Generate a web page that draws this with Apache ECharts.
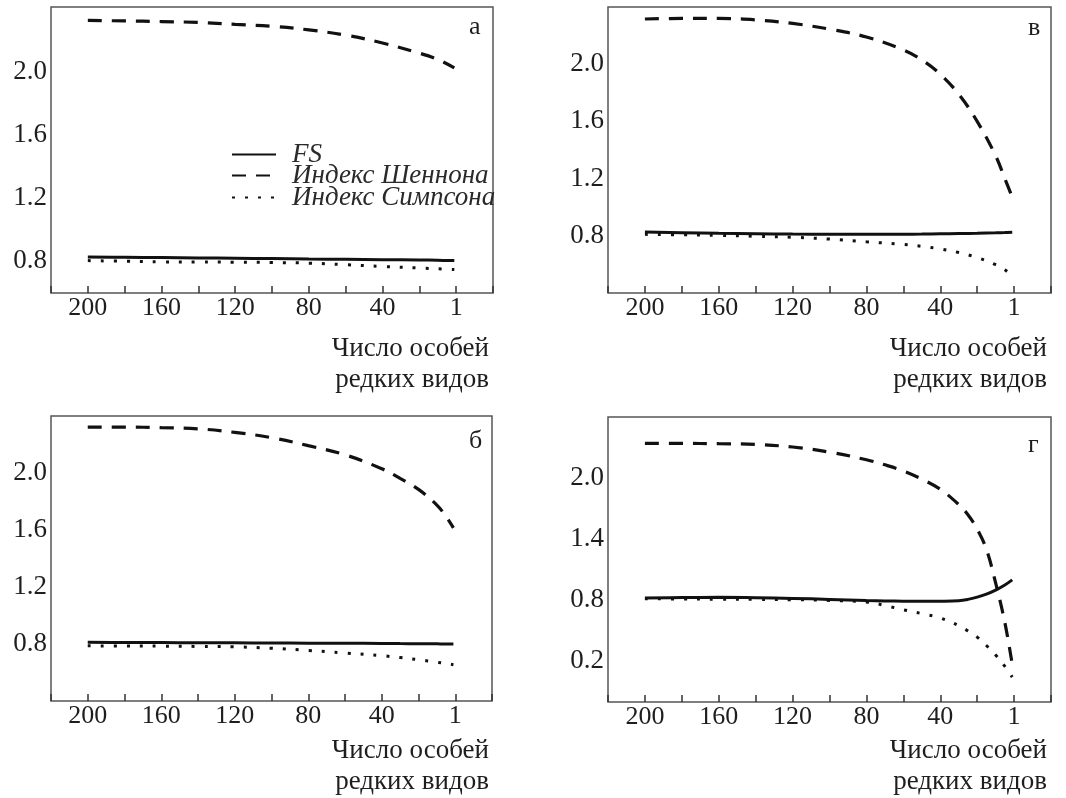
<!DOCTYPE html>
<html><head><meta charset="utf-8">
<script src="https://cdn.jsdelivr.net/npm/echarts@6/dist/echarts.min.js"></script>
<style>html,body{margin:0;padding:0;background:#fff}#c{width:1066px;height:798px}</style>
</head><body><div id="c"></div>
<script>
// ---------- data ----------
const seriesNames = ['FS', 'Индекс Шеннона', 'Индекс Симпсона'];
const xTickLabels = ['200', '160', '120', '80', '40', '1'];
const xTickValues = [200, 160, 120, 80, 40, 0];
const axisTitle = 'Число особей\nредких видов';
const panelLetters = ['а', 'в', 'б', 'г'];

// panel а
const xA = [200,180,160,140,120,100,80,60,40,20,10,1];
const shannonA = [2.325,2.322,2.318,2.312,2.300,2.288,2.265,2.232,2.182,2.118,2.078,2.025];
const fsA = [0.828,0.826,0.824,0.822,0.820,0.818,0.815,0.813,0.811,0.809,0.807,0.805];
const simpsonA = [0.805,0.801,0.797,0.796,0.795,0.793,0.789,0.779,0.768,0.758,0.753,0.748];
const yLabelsA = ['0.8','1.2','1.6','2.0'];

// panel в
const xB = [200,180,160,140,120,100,80,60,50,40,30,20,10,5,1];
const shannonB = [2.316,2.320,2.320,2.310,2.285,2.245,2.190,2.100,2.030,1.930,1.790,1.600,1.360,1.200,1.070];
const fsB = [0.826,0.822,0.818,0.815,0.812,0.811,0.810,0.811,0.812,0.814,0.816,0.818,0.821,0.823,0.825];
const simpsonB = [0.810,0.807,0.803,0.797,0.790,0.777,0.758,0.740,0.726,0.708,0.683,0.648,0.598,0.562,0.520];
const yLabelsB = ['0.8','1.2','1.6','2.0'];

// panel б
const xC = [200,180,160,140,120,100,80,60,40,30,20,10,5,1];
const shannonC = [2.322,2.322,2.318,2.310,2.285,2.248,2.192,2.128,2.030,1.962,1.885,1.775,1.695,1.615];
const fsC = [0.812,0.811,0.810,0.809,0.808,0.807,0.806,0.805,0.804,0.803,0.802,0.801,0.800,0.800];
const simpsonC = [0.787,0.786,0.785,0.783,0.780,0.770,0.755,0.737,0.718,0.705,0.690,0.672,0.663,0.655];
const yLabelsC = ['0.8','1.2','1.6','2.0'];

// panel г
const xD = [200,180,160,140,120,100,80,70,60,50,40,30,25,20,15,10,5,1];
const shannonD = [2.340,2.340,2.338,2.330,2.305,2.255,2.180,2.130,2.070,1.990,1.890,1.740,1.640,1.500,1.300,0.970,0.580,0.170];
const fsD = [0.822,0.826,0.828,0.825,0.818,0.808,0.797,0.793,0.790,0.789,0.790,0.795,0.808,0.830,0.860,0.900,0.950,1.000];
const simpsonD = [0.815,0.812,0.810,0.808,0.805,0.798,0.783,0.748,0.706,0.668,0.625,0.550,0.498,0.438,0.355,0.262,0.150,0.045];
const yLabelsD = ['0.2','0.8','1.4','2.0'];

// ---------- layout / style ----------
const FONT = '"Liberation Serif", "Times New Roman", serif';
const TXT = '#1e1e1e';
const panels = [
  {grid:{left:51, top:7, width:442, height:286}, ymin:0.6, ymax:2.41, yl:yLabelsA, xs:xA, s:[fsA, shannonA, simpsonA],
   name:{x:489, y:333}, letter:{left:469, top:14}},
  {grid:{left:608, top:7, width:443, height:286}, ymin:0.4, ymax:2.4, yl:yLabelsB, xs:xB, s:[fsB, shannonB, simpsonB],
   name:{x:1047, y:333}, letter:{left:1028, top:15}},
  {grid:{left:51, top:416, width:441, height:285}, ymin:0.4, ymax:2.4, yl:yLabelsC, xs:xC, s:[fsC, shannonC, simpsonC],
   name:{x:489, y:735}, letter:{left:469, top:428}},
  {grid:{left:608, top:417, width:443, height:285}, ymin:-0.2, ymax:2.6, yl:yLabelsD, xs:xD, s:[fsD, shannonD, simpsonD],
   name:{x:1047, y:735}, letter:{left:1028, top:432}}
];
const lineStyles = [
  {color:'#111', width:3, type:'solid'},
  {color:'#111', width:3.2, type:[14,10], cap:'butt'},
  {color:'#111', width:3, type:[3,10], cap:'butt'}
];

const grid = [], xAxis = [], yAxis = [], series = [], title = [], graphic = [];
panels.forEach((p, i) => {
  grid.push(Object.assign({show:true, borderColor:'#555', borderWidth:1.5, backgroundColor:'transparent',
    containLabel:false, outerBoundsMode:'none'}, p.grid));
  xAxis.push({
    type:'value', gridIndex:i, min:-20, max:220, interval:20, inverse:true,
    axisLine:{show:false, onZero:false}, splitLine:{show:false},
    axisTick:{show:true, inside:true, length:7, lineStyle:{color:'#333', width:1.5}},
    axisLabel:{margin:2, fontFamily:FONT, fontSize:26, color:TXT,
      formatter: v => { const k = xTickValues.indexOf(Math.round(v)); return k >= 0 ? xTickLabels[k] : ''; }}
  });
  yAxis.push({
    type:'value', gridIndex:i, min:p.ymin, max:p.ymax, interval:0.2,
    axisLine:{show:false, onZero:false}, splitLine:{show:false}, axisTick:{show:false},
    axisLabel:{margin:4, fontFamily:FONT, fontSize:27, color:TXT, showMaxLabel:false,
      formatter: v => { const t = (Math.round(v*10)/10).toFixed(1); return p.yl.indexOf(t) >= 0 ? t : ''; }}
  });
  p.s.forEach((ys, j) => {
    series.push({
      name: seriesNames[j], type:'line', xAxisIndex:i, yAxisIndex:i,
      data: p.xs.map((x, k) => [x, ys[k]]),
      smooth:0.4, symbol:'none', lineStyle: lineStyles[j], itemStyle:{color:'#111'},
      silent:true, animation:false, z: j === 0 ? 3 : 2
    });
  });
  graphic.push({type:'text', x:p.name.x, y:p.name.y, silent:true,
    style:{text:axisTitle, fontFamily:FONT, fontSize:27, lineHeight:31, fill:TXT, align:'right', verticalAlign:'top'}});
  title.push({text:panelLetters[i], left:p.letter.left, top:p.letter.top, padding:0,
    textStyle:{fontFamily:FONT, fontSize:26, fontWeight:'normal', color:TXT}});
});

const legendTops = [141, 162, 184];
const legend = seriesNames.map((n, j) => ({
  data:[n], left:231, top:legendTops[j], padding:0, orient:'vertical',
  itemWidth:44, itemHeight:14, selectedMode:false,
  itemStyle:{opacity:0, borderWidth:0},
  textStyle:{fontFamily:FONT, fontSize:27, fontStyle:'italic', color:'#2a2a2a', padding:[0,0,0,11]}
}));

const chart = echarts.init(document.getElementById('c'), null, {renderer:'canvas'});
chart.setOption({animation:false, backgroundColor:'#fff', title, legend, grid, xAxis, yAxis, series, graphic});
</script></body></html>
